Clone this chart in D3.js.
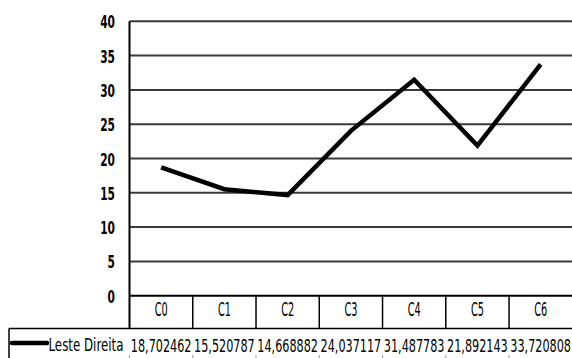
<!DOCTYPE html>
<html><head><meta charset="utf-8">
<script src="https://cdn.jsdelivr.net/npm/d3@7"></script>
<style>
html,body{margin:0;padding:0;background:#fff;overflow:hidden}
svg{display:block}
text{font-family:"DejaVu Sans Condensed","Liberation Sans Narrow","Liberation Sans",sans-serif}
</style></head>
<body>
<svg id="c" width="572" height="358"></svg>
<script>
const categories = ["C0","C1","C2","C3","C4","C5","C6"];
const seriesName = "Leste Direita";
const values = [18.702462, 15.520787, 14.668882, 24.037117, 31.487783, 21.892143, 33.720808];
const valueLabels = ["18,702462","15,520787","14,668882","24,037117","31,487783","21,892143","33,720808"];
const yTicks = [0,5,10,15,20,25,30,35,40];

(function(){
const svg = d3.select("#c");
const pL = 129.5, pR = 572 + 0.3, pT = 21.3, pB = 295.7;
const rowBottom = 328.5;
const CAP = 0.729;

function fit(node, w, h, ax, base) {
  const t = d3.select(node);
  t.attr("x", 0).attr("y", 0).attr("dy", null).attr("font-size", 20);
  const nat = node.getComputedTextLength();
  const fs = 20 * w / nat;
  t.attr("font-size", fs);
  const sy = h / (CAP * fs);
  t.attr("transform", `translate(${ax},${base}) scale(1,${sy})`);
}

const x = d3.scaleBand().domain(categories).range([pL, pR]).paddingInner(0).paddingOuter(0);
const y = d3.scaleLinear().domain([0,40]).range([pB, pT]);

svg.append("g").selectAll("line").data(yTicks.filter(d=>d>0)).join("line")
  .attr("x1", pL).attr("x2", 572).attr("y1", d=>y(d)).attr("y2", d=>y(d))
  .attr("stroke", "#3a3a3a").attr("stroke-width", 2);

const yAxis = d3.axisLeft(y).tickValues(yTicks).tickSize(0).tickPadding(14);
const ya = svg.append("g").attr("transform", `translate(${pL},0)`).call(yAxis);
ya.select(".domain").remove();
ya.selectAll("text").attr("font-weight", "bold").attr("fill", "#000")
  .each(function(d){ fit(this, String(d).length * 7.4, 13, -14.5, 6.5); });

svg.append("line").attr("x1", pL).attr("x2", pL).attr("y1", pT).attr("y2", rowBottom)
  .attr("stroke", "#000").attr("stroke-width", 2);
svg.append("line").attr("x1", pL).attr("x2", 572).attr("y1", pB).attr("y2", pB)
  .attr("stroke", "#000").attr("stroke-width", 2);

const xa = d3.axisBottom(x).tickSize(0).tickPadding(0);
const xg = svg.append("g").attr("transform", `translate(0,${pB})`).call(xa);
xg.select(".domain").remove();
xg.selectAll("text").attr("fill", "#000")
  .each(function(){ fit(this, 13, 14, 0, 20); });
svg.append("g").selectAll("line").data(categories.slice(1)).join("line")
  .attr("x1", d=>x(d)).attr("x2", d=>x(d)).attr("y1", pB).attr("y2", rowBottom)
  .attr("stroke", "#000").attr("stroke-width", 1.5);

svg.append("line").attr("x1", 9).attr("x2", 572).attr("y1", rowBottom).attr("y2", rowBottom)
  .attr("stroke", "#000").attr("stroke-width", 1.5);
svg.append("line").attr("x1", 9).attr("x2", 9).attr("y1", rowBottom).attr("y2", 358)
  .attr("stroke", "#000").attr("stroke-width", 1.5);
svg.append("g").selectAll("line").data(categories).join("line")
  .attr("x1", d=>x(d)).attr("x2", d=>x(d)).attr("y1", 355).attr("y2", 358)
  .attr("stroke", "#999").attr("stroke-width", 1);
svg.append("line").attr("x1", 12).attr("x2", 47).attr("y1", 343).attr("y2", 343)
  .attr("stroke", "#000").attr("stroke-width", 4.5).attr("stroke-linecap", "round");
svg.append("text").attr("fill", "#000").text(seriesName)
  .each(function(){ fit(this, 75, 13, 48.5, 351); });
svg.append("g").selectAll("text").data(categories).join("text")
  .attr("text-anchor", "middle").attr("fill", "#000")
  .text((d,i)=>valueLabels[i])
  .each(function(d){ fit(this, x.bandwidth()-2.5, 13, x(d) + x.bandwidth()/2, 351.5); });

const line = d3.line().x((d,i)=>x(categories[i]) + x.bandwidth()/2).y(d=>y(d));
svg.append("path").datum(values).attr("d", line).attr("fill", "none")
  .attr("stroke", "#000").attr("stroke-width", 4.5).attr("stroke-linejoin", "miter");
})();
</script>
</body></html>
